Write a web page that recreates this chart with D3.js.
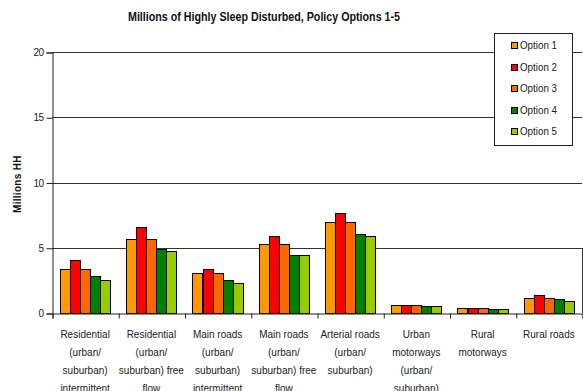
<!DOCTYPE html>
<html><head><meta charset="utf-8">
<script src="https://cdn.jsdelivr.net/npm/d3@7"></script>
<style>body{margin:0;background:#fff;}svg{display:block;}</style>
</head><body>
<script>
const categories = [
  ["Residential","(urban/","suburban)","intermittent"],
  ["Residential","(urban/","suburban) free","flow"],
  ["Main roads","(urban/","suburban)","intermittent"],
  ["Main roads","(urban/","suburban) free","flow"],
  ["Arterial roads","(urban/","suburban)"],
  ["Urban","motorways","(urban/","suburban)"],
  ["Rural","motorways"],
  ["Rural roads"]
];
const seriesNames = ["Option 1","Option 2","Option 3","Option 4","Option 5"];
const option1 = [3.37, 5.70, 3.06, 5.29, 6.97, 0.64, 0.41, 1.15];
const option2 = [4.04, 6.56, 3.37, 5.90, 7.66, 0.64, 0.41, 1.38];
const option3 = [3.37, 5.70, 3.06, 5.29, 6.97, 0.64, 0.41, 1.15];
const option4 = [2.83, 4.88, 2.53, 4.42, 6.03, 0.51, 0.31, 1.05];
const option5 = [2.53, 4.78, 2.30, 4.42, 5.93, 0.51, 0.31, 0.94];
const yTicks = [0, 5, 10, 15, 20];
const colors = ["#FF9900","#FF0000","#FF6600","#008000","#99CC00"];
const series = [option1, option2, option3, option4, option5];

const W = 583, H = 391;
const pLeft = 52, pRight = 582, pTop = 52, pBottom = 313;
const svg = d3.select("body").append("svg").attr("width", W).attr("height", H);

const x0 = d3.scaleBand().domain(d3.range(categories.length)).range([pLeft, pRight]).paddingInner(0.24).paddingOuter(0.12);
const x1 = d3.scaleBand().domain(d3.range(seriesNames.length)).range([0, x0.bandwidth()]);
const y = d3.scaleLinear().domain([0, 20]).range([pBottom, pTop]);

// gridlines
svg.append("g").selectAll("line").data(yTicks.filter(d => d > 0)).join("line")
  .attr("x1", pLeft).attr("x2", pRight).attr("y1", d => Math.round(y(d)) + 0.5).attr("y2", d => Math.round(y(d)) + 0.5)
  .attr("stroke", "#333").attr("stroke-width", 1);
// right border
svg.append("line").attr("x1", pRight + 0.5).attr("x2", pRight + 0.5).attr("y1", Math.round(y(5))).attr("y2", pBottom)
  .attr("stroke", "#333");

// bars
const g = svg.append("g");
series.forEach((vals, si) => {
  g.append("g").selectAll("rect").data(vals).join("rect")
    .attr("x", (d, i) => Math.round(x0(i) + x1(si)) + 0.5)
    .attr("y", d => Math.round(y(d)) + 0.5)
    .attr("width", Math.round(x1.bandwidth()))
    .attr("height", d => Math.round(y(0)) - Math.round(y(d)))
    .attr("fill", colors[si]).attr("stroke", "#000").attr("stroke-width", 1);
});

// y axis
const yAxis = d3.axisLeft(y).tickValues(yTicks).tickSize(6).tickPadding(3);
const ya = svg.append("g").attr("transform", `translate(${pLeft + 0.5},0.5)`).call(yAxis);
ya.selectAll("text").attr("font-family", "'Liberation Sans',Arial,sans-serif").attr("font-size", 10)
  .attr("letter-spacing", -0.6).attr("fill", "#222");
ya.selectAll("line,path").attr("stroke", "#222");

// x axis
const xAxisScale = d3.scaleLinear().domain([0, categories.length]).range([pLeft, pRight]);
const xa = svg.append("g").attr("transform", `translate(0.5,${pBottom + 0.5})`)
  .call(d3.axisBottom(xAxisScale).tickValues(d3.range(categories.length + 1)).tickSize(5).tickFormat(""));
xa.selectAll("line,path").attr("stroke", "#222");

// category labels
categories.forEach((lines, i) => {
  const t = svg.append("text").attr("text-anchor", "middle")
    .attr("font-family", "'Liberation Sans','Arial',sans-serif").attr("font-size", 10).attr("fill", "#222");
  lines.forEach((ln, k) => {
    t.append("tspan").attr("x", x0(i) + x0.bandwidth() / 2).attr("y", 338 + k * 18).text(ln);
  });
});

// title
svg.append("text").attr("x", 128).attr("y", 21)
  .attr("textLength", 272).attr("lengthAdjust", "spacingAndGlyphs")
  .attr("font-family", "'Liberation Sans',Arial,sans-serif").attr("font-weight", "bold")
  .attr("font-size", 12.5).attr("fill", "#111").text("Millions of Highly Sleep Disturbed, Policy Options 1-5");

// y label (clipped)
const yl = svg.append("g");
yl.append("clipPath").attr("id", "ylc").append("rect").attr("x", 0).attr("y", 149).attr("width", 40).attr("height", 100);
yl.append("g").attr("clip-path", "url(#ylc)")
  .append("text")
  .attr("transform", "translate(21,213) rotate(-90)").attr("text-anchor", "start")
  .attr("font-family", "'Liberation Sans','Arial',sans-serif").attr("font-weight", "bold")
  .attr("font-size", 10).attr("letter-spacing", 0.3).attr("fill", "#111").text("Millions HH");

// legend
const lg = svg.append("g");
lg.append("rect").attr("x", 494.5).attr("y", 33.5).attr("width", 78).attr("height", 112)
  .attr("fill", "#fff").attr("stroke", "#222").attr("stroke-width", 1);
seriesNames.forEach((nm, i) => {
  const yy = 45 + i * 21.5;
  lg.append("rect").attr("x", 511.5).attr("y", Math.round(yy - 3) + 0.5).attr("width", 6).attr("height", 6)
    .attr("fill", colors[i]).attr("stroke", "#000");
  lg.append("text").attr("x", 520).attr("y", yy + 4)
    .attr("textLength", 37).attr("lengthAdjust", "spacingAndGlyphs")
    .attr("font-family", "'Liberation Sans',Arial,sans-serif").attr("font-size", 11)
    .attr("fill", "#222").text(nm);
});
</script>
</body></html>
